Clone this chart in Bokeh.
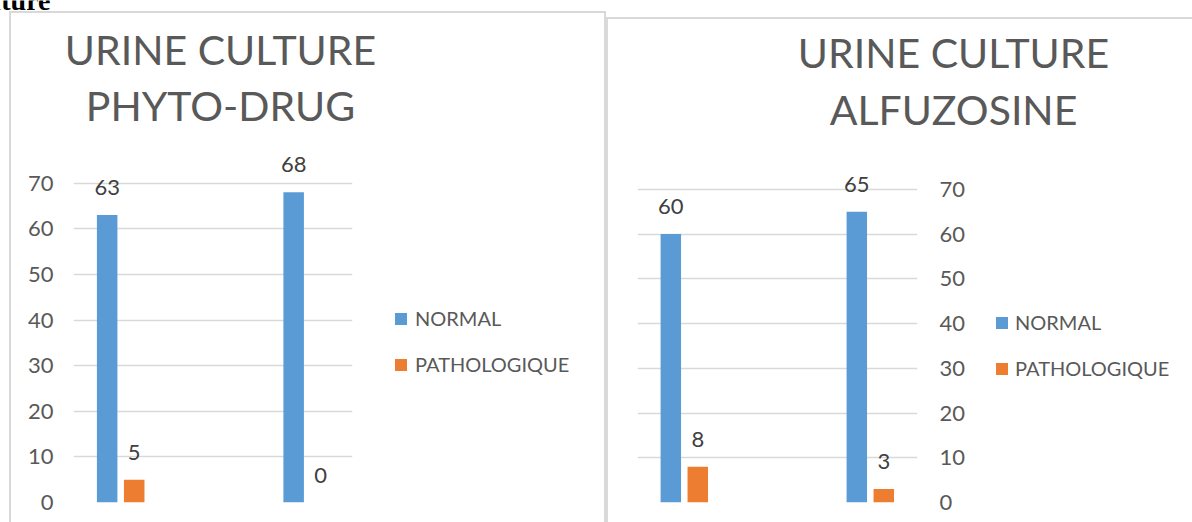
from bokeh.plotting import figure
from bokeh.layouts import row, column
from bokeh.models import (ColumnDataSource, FixedTicker, Legend, LegendItem,
                          Label, Range1d)
from bokeh.transform import dodge
from bokeh.core.properties import value
from bokeh.embed import file_html
from bokeh.resources import INLINE

# Two unlabelled groups per chart
groups = [0, 1]
series_names = ["NORMAL", "PATHOLOGIQUE"]

phyto_normal = [63, 68]
phyto_patho = [5, 0]

alfu_normal = [60, 65]
alfu_patho = [8, 3]

y_ticks = [0, 10, 20, 30, 40, 50, 60, 70]

phyto_title = ["URINE CULTURE", "PHYTO-DRUG"]
alfu_title = ["URINE CULTURE", "ALFUZOSINE"]

BLUE = "#5b9bd5"
ORANGE = "#ed7d31"
GRID = "#d9d9d9"
FONT = "Lato"
TICK_COLOR = "#595959"
LABEL_COLOR = "#404040"
BAR_W = 0.11
OFF = 0.0725
TOP_H = 137          # band holding the chart titles
CHART_H = 522 - TOP_H
BOTTOM = 20          # space under the value axis baseline


def make_source(normal, patho):
    return ColumnDataSource(dict(
        x=groups,
        normal=normal,
        patho=patho,
        normal_txt=[str(v) for v in normal],
        patho_txt=[str(v) for v in patho],
    ))


def blank(width, height, bottom=0):
    """A figure whose frame is its whole canvas, used for text and legends."""
    p = figure(width=width, height=height, title=None,
               x_range=Range1d(0, width), y_range=Range1d(height - bottom, 0),
               min_border=0, min_border_bottom=bottom,
               x_axis_location=None, y_axis_location=None,
               output_backend="svg", toolbar_location=None)
    p.grid.visible = False
    p.outline_line_color = None
    p.background_fill_alpha = 0
    p.border_fill_alpha = 0
    return p


def title_fig(width, lines, cx, ys):
    p = blank(width, TOP_H)
    for text, ty in zip(lines, ys):
        p.add_layout(Label(x=cx, y=ty, text=text, text_align="center",
                           text_baseline="alphabetic", text_font=FONT,
                           text_font_size="41px", text_color=TICK_COLOR))
    return p


def legend_fig(src, width, xy, standoff):
    p = blank(width, CHART_H, BOTTOM)
    # the series renderers are kept hidden here; they only supply the keys
    r1 = p.vbar(x="x", top="normal", width=BAR_W, source=src,
                fill_color=BLUE, line_color=None, visible=False)
    r2 = p.vbar(x="x", top="patho", width=BAR_W, source=src,
                fill_color=ORANGE, line_color=None, visible=False)
    lg = Legend(items=[LegendItem(label=series_names[0], renderers=[r1]),
                       LegendItem(label=series_names[1], renderers=[r2])],
                location=xy, margin=0, padding=0, spacing=22,
                glyph_width=15, glyph_height=15, label_height=20,
                label_standoff=standoff, label_text_font=FONT,
                label_text_font_size="20px", label_text_color=TICK_COLOR,
                inactive_fill_alpha=0,
                border_line_color=None, background_fill_alpha=0)
    p.add_layout(lg, "center")
    return p


def chart_fig(src, width, x_range, px_per_unit, border_lr, axis_side,
              standoff):
    left, right = border_lr
    y_end = (CHART_H - BOTTOM) / px_per_unit
    p = figure(width=width, height=CHART_H, title=None,
               x_range=x_range, y_range=(0, y_end),
               min_border_left=left, min_border_right=right,
               min_border_top=0, min_border_bottom=BOTTOM,
               x_axis_location=None, y_axis_location=axis_side,
               output_backend="svg", toolbar_location=None)
    p.outline_line_color = None
    p.background_fill_alpha = 0
    p.border_fill_alpha = 0

    p.xgrid.visible = False
    p.ygrid.grid_line_color = GRID
    p.ygrid.grid_line_width = 1.5

    ax = p.yaxis[0]
    ax.ticker = FixedTicker(ticks=y_ticks)
    ax.axis_line_color = None
    ax.major_tick_line_color = None
    ax.minor_tick_line_color = None
    ax.major_tick_out = 0
    ax.major_tick_in = 0
    ax.minor_tick_out = 0
    ax.major_label_standoff = standoff
    ax.major_label_text_font = FONT
    ax.major_label_text_font_size = "22px"
    ax.major_label_text_color = TICK_COLOR

    p.vbar(x=dodge("x", -OFF, range=p.x_range), top="normal", width=BAR_W,
           source=src, fill_color=BLUE, line_color=None)
    p.vbar(x=dodge("x", OFF, range=p.x_range), top="patho", width=BAR_W,
           source=src, fill_color=ORANGE, line_color=None)

    for off, col in ((-OFF, "normal"), (OFF, "patho")):
        p.text(x=dodge("x", off, range=p.x_range), y=col, text=col + "_txt",
               source=src, text_font=value(FONT), text_font_size="22px",
               text_color=LABEL_COLOR, text_align="center",
               text_baseline="alphabetic", y_offset=-27.5)
    return p


def line(x, y, w, h):
    return (f"linear-gradient({GRID},{GRID}) {x}px {y}px / {w}px {h}px "
            "no-repeat")


# Left chart: PHYTO-DRUG
src1 = make_source(phyto_normal, phyto_patho)
t1 = title_fig(606, phyto_title, 220, (49, 105))
t1.add_layout(Label(x=50, y=0, text="Culture", text_align="right",
                    text_baseline="alphabetic", text_font="Liberation Serif",
                    text_font_style="bold", text_font_size="28px",
                    text_color="black"))
c1 = chart_fig(src1, 385, (-0.253, 1.243), 4.5625, (73, 33), "left", 20)
l1 = legend_fig(src1, 221, (8, 126), 7)
left_panel = column(t1, row(c1, l1),
                    styles={"background": ", ".join([
                        line(9, 11, 2, 600), line(9, 11, 597, 2),
                        line(604, 11, 2, 600)])})

# Right chart: ALFUZOSINE
src2 = make_source(alfu_normal, alfu_patho)
t2 = title_fig(586, alfu_title, 347, (52, 109))
c2 = chart_fig(src2, 379, (-0.2516, 1.2538), 4.475, (31, 68), "right", 22)
l2 = legend_fig(src2, 207, (9, 122), 6)
right_panel = column(t2, row(c2, l2),
                     styles={"background": ", ".join([
                         line(0, 17, 2, 600), line(0, 17, 586, 2)])})

layout = row(left_panel, right_panel)
open("out.html", "w").write(file_html(layout, INLINE))
